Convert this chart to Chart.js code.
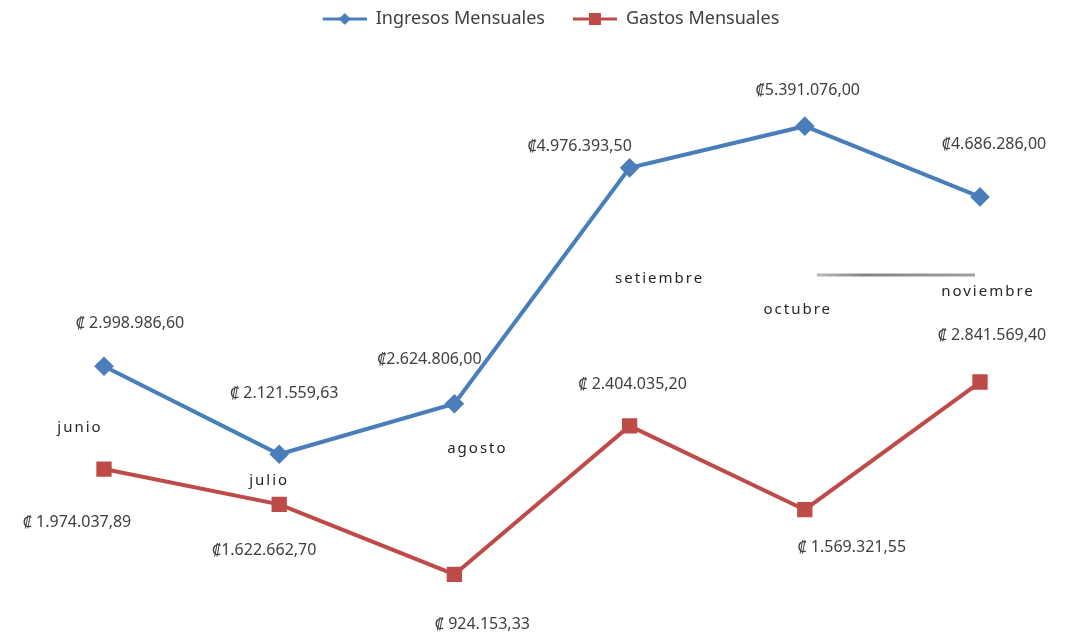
<!DOCTYPE html>
<html>
<head>
<meta charset="utf-8">
<script src="https://cdn.jsdelivr.net/npm/chart.js@4/dist/chart.umd.min.js"></script>
<style>
    html, body { margin: 0; padding: 0; background: #fff; }
    #wrap { width: 1089px; height: 635px; }
</style>
</head>
<body>
<div id="wrap"><canvas id="grafico" width="1089" height="635"></canvas></div>
<script>
const meses = ['junio', 'julio', 'agosto', 'setiembre', 'octubre', 'noviembre'];
const ingresos = [2998986.60, 2121559.63, 2624806.00, 4976393.50, 5391076.00, 4686286.00];
const gastos = [1974037.89, 1622662.70, 924153.33, 2404035.20, 1569321.55, 2841569.40];
const etiquetasIngresos = ['₡ 2.998.986,60', '₡ 2.121.559,63', '₡2.624.806,00', '₡4.976.393,50', '₡5.391.076,00', '₡4.686.286,00'];
const etiquetasGastos = ['₡ 1.974.037,89', '₡1.622.662,70', '₡ 924.153,33', '₡ 2.404.035,20', '₡ 1.569.321,55', '₡ 2.841.569,40'];

const AZUL = '#4a7ebb';
const ROJO = '#be4b48';
const FUENTE = "'Noto Sans', 'DejaVu Sans', sans-serif";

// desplazamientos de las etiquetas respecto al punto (como en la imagen)
const offIngresos = [[26, -43], [5, -61], [-25, -44], [-50, -21], [3, -36], [14, -52]];
const offGastos = [[-27, 53], [-15, 46], [28, 50], [3, -41], [47, 38], [12, -47]];
const offMeses = [[-24, 62], [-10, 26], [23, 45], [30, 111], [-7, 184], [8, 95]];

// icono de leyenda: línea con marcador, con un margen vacío a la izquierda
function iconoLeyenda(color, forma) {
    const c = document.createElement('canvas');
    c.width = 62; c.height = 14;
    const g = c.getContext('2d');
    g.strokeStyle = color;
    g.lineWidth = 3;
    g.beginPath(); g.moveTo(18, 7); g.lineTo(62, 7); g.stroke();
    g.fillStyle = color;
    if (forma === 'rombo') {
        g.beginPath(); g.moveTo(40, 1); g.lineTo(46, 7); g.lineTo(40, 13); g.lineTo(34, 7); g.closePath(); g.fill();
    } else {
        g.fillRect(34, 1, 12, 12);
    }
    return c;
}

const etiquetasPlugin = {
    id: 'etiquetas',
    afterDatasetsDraw(chart) {
        const ctx = chart.ctx;
        ctx.save();
        const base = chart.getDatasetMeta(0).data;

        // trazo gris borroso que aparece en la imagen entre octubre y noviembre
        const grad = ctx.createLinearGradient(base[4].x + 12, 0, base[5].x - 5, 0);
        grad.addColorStop(0, 'rgba(120,120,120,0.5)');
        grad.addColorStop(0.3, 'rgba(110,110,110,0.85)');
        grad.addColorStop(1, 'rgba(120,120,120,0.7)');
        ctx.strokeStyle = grad;
        ctx.lineWidth = 3;
        ctx.beginPath();
        ctx.moveTo(base[4].x + 12, base[5].y + 78);
        ctx.lineTo(base[5].x - 5, base[5].y + 78);
        ctx.stroke();

        ctx.textAlign = 'center';
        ctx.textBaseline = 'middle';
        const grupos = [
            { meta: chart.getDatasetMeta(0), textos: etiquetasIngresos, off: offIngresos },
            { meta: chart.getDatasetMeta(1), textos: etiquetasGastos, off: offGastos }
        ];
        ctx.font = '16px ' + FUENTE;
        ctx.fillStyle = '#404040';
        grupos.forEach(gr => {
            gr.meta.data.forEach((p, i) => {
                ctx.fillText(gr.textos[i], p.x + gr.off[i][0], p.y + gr.off[i][1]);
            });
        });
        // nombres de los meses flotando cerca de la serie de ingresos
        ctx.font = '15px ' + FUENTE;
        ctx.letterSpacing = '2px';
        ctx.fillStyle = '#262626';
        base.forEach((p, i) => {
            ctx.fillText(meses[i], p.x + offMeses[i][0], p.y + offMeses[i][1]);
        });
        ctx.restore();
    }
};

const iconos = [iconoLeyenda(AZUL, 'rombo'), iconoLeyenda(ROJO, 'cuadro')];

new Chart(document.getElementById('grafico'), {
    type: 'line',
    data: {
        labels: meses,
        datasets: [{
            label: 'Ingresos Mensuales',
            data: ingresos,
            borderColor: AZUL,
            backgroundColor: AZUL,
            borderWidth: 4,
            pointStyle: 'rectRot',
            pointRadius: 7,
            pointHoverRadius: 7,
            tension: 0
        }, {
            label: 'Gastos Mensuales',
            data: gastos,
            borderColor: ROJO,
            backgroundColor: ROJO,
            borderWidth: 4,
            pointStyle: 'rect',
            pointRadius: 8,
            pointHoverRadius: 8,
            tension: 0
        }]
    },
    options: {
        responsive: false,
        maintainAspectRatio: false,
        animation: false,
        layout: { padding: { left: 104, right: 109, top: 0, bottom: 0 } },
        scales: {
            x: { display: false },
            y: { display: false, min: 440000, max: 6270000 }
        },
        plugins: {
            legend: {
                position: 'top',
                labels: {
                    usePointStyle: true,
                    pointStyleWidth: 62,
                    padding: 10,
                    color: '#404040',
                    font: { size: 18, family: FUENTE },
                    generateLabels(chart) {
                        const base = Chart.defaults.plugins.legend.labels.generateLabels(chart);
                        base.forEach((l, i) => { l.pointStyle = iconos[i]; });
                        return base;
                    }
                }
            },
            tooltip: { enabled: false }
        }
    },
    plugins: [etiquetasPlugin]
});
</script>
</body>
</html>
